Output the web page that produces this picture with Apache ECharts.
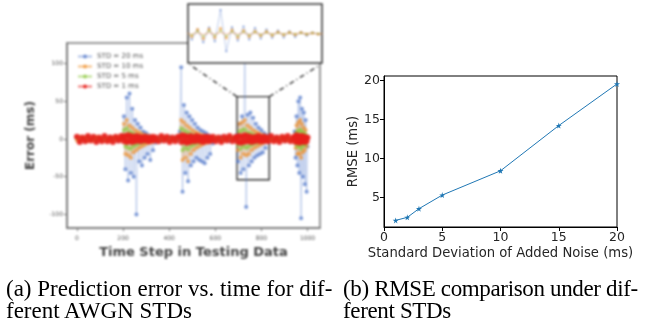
<!DOCTYPE html>
<html><head><meta charset="utf-8">
<script src="https://cdn.jsdelivr.net/npm/echarts@6/dist/echarts.min.js"></script>
<style>
html,body{margin:0;padding:0;background:#fff;width:657px;height:324px;overflow:hidden;}
#left{position:absolute;left:0;top:0;width:340px;height:264px;filter:blur(0.9px);}
#right{position:absolute;left:0;top:0;width:657px;height:324px;}
.cap{position:absolute;font-family:'Liberation Serif','Times New Roman',serif;font-size:23px;line-height:22px;color:#000;white-space:nowrap;}
</style></head>
<body>
<div id="right"></div>
<div id="left"></div>
<div class="cap" style="left:6px;top:278px;">(a) Prediction error vs. time for dif-<br>ferent AWGN STDs</div>
<div class="cap" style="left:343px;top:278px;letter-spacing:-0.35px;">(b) RMSE comparison under dif-<br>ferent STDs</div>
<script>
// ---------- data: panel (a) ----------
const timeSteps = [0,12,24,36,48,60,72,84,96,108,120,132,144,156,168,180,192,
198,204,210,216,222,228,234,240,246,252,258,264,270,276,282,288,294,300,306,312,318,324,330,336,342,
354,366,378,390,402,414,426,438,
446,452,458,464,470,476,482,488,494,500,506,512,518,524,530,536,542,548,554,560,566,572,578,584,590,
602,614,626,638,650,662,674,686,
692,698,704,710,716,722,728,734,740,746,752,758,764,770,776,782,788,794,800,806,812,818,824,830,
842,854,866,878,890,902,914,926,938,
944,948,952,956,960,964,968,972,976,980,984,988,992,996,1000];

const errStd20 = [2,-3,1,-2,3,-1,2,-3,1,-2,2,-1,3,-2,1,-3,2,
5,30,-40,55,-55,60,-45,40,-50,25,-100,20,-30,15,-35,10,-25,8,-20,5,-28,3,-15,2,-5,
2,-3,1,-2,3,-1,2,-2,
10,95,-70,45,-45,35,-56,30,-35,25,-30,20,-25,15,-28,12,-30,10,-32,8,-25,5,-20,3,-6,
1,-2,3,-1,2,-3,1,-2,
5,-30,20,-45,30,-40,120,-90,32,-35,35,-30,28,-25,20,-22,15,-20,12,-18,8,-12,5,-4,
2,-1,3,-2,1,-3,2,-1,2,
10,-25,30,-35,50,-45,55,-105,40,-50,35,-60,25,-70,-10];

const errStd10 = [-2,3,-1,2,-3,1,-2,3,-1,2,-2,1,-3,2,-1,3,-2,
3,20,-20,25,-22,18,-25,15,-18,12,-15,10,-12,8,-10,6,-8,5,-6,4,-5,3,-4,2,-2,
-2,3,-1,2,-3,1,-2,2,
5,25,-28,22,-25,18,-30,15,-20,12,-15,10,-12,8,-10,6,-8,5,-6,4,-5,3,-4,2,-2,
-1,2,-3,1,-2,3,-1,2,
3,-15,20,-25,22,-20,25,-22,18,-20,15,-15,12,-12,10,-10,8,-8,6,-6,5,-4,3,-2,
-2,1,-3,2,-1,3,-2,1,-2,
5,-12,18,-20,22,-20,25,-25,20,-18,15,-15,12,-10,2];

const errStd5 = [1,-2,2,-1,2,-2,1,-1,2,-2,1,-2,2,-1,2,-1,1,
2,12,-10,14,-12,10,-13,8,-10,6,-8,5,-6,4,-5,3,-4,3,-3,2,-3,2,-2,1,-1,
1,-2,2,-1,2,-2,1,-1,
3,14,-15,12,-12,10,-14,8,-10,6,-8,5,-6,4,-5,3,-4,3,-3,2,-3,2,-2,1,-1,
2,-1,1,-2,2,-1,2,-1,
2,-8,10,-13,12,-10,13,-12,9,-10,8,-8,6,-6,5,-5,4,-4,3,-3,3,-2,2,-1,
1,-2,2,-1,2,-2,1,-2,1,
3,-6,9,-10,11,-10,12,-13,10,-9,8,-8,6,-5,1];

const errStd1 = [3,-4,2,-3,4,-2,3,-4,2,-3,4,-3,2,-4,3,-2,4,
2,-3,4,-4,5,-3,4,-4,3,-3,4,-2,3,-3,2,-2,3,-2,2,-3,2,-2,3,-2,2,
-3,4,-2,3,-4,2,-3,3,
3,-4,5,-3,4,-5,3,-4,4,-3,2,-3,4,-2,3,-3,2,-4,3,-2,3,-3,2,-2,3,
-3,2,-4,3,-2,4,-3,2,
3,-4,4,-5,3,-4,5,-3,4,-3,3,-4,2,-3,3,-2,4,-3,2,-3,3,-2,2,-3,
4,-3,2,-4,3,-2,4,-3,2,
3,-4,5,-3,4,-5,3,-4,4,-3,3,-4,2,-3,2];

const seriesNames = ['STD = 20 ms','STD = 10 ms','STD = 5 ms','STD = 1 ms'];
const xTicksA = [0,200,400,600,800,1000];
const yTicksA = [-100,-50,0,50,100];
const zoomBox = {x0:694, x1:834, y0:-54, y1:56};

// ---------- data: panel (b) ----------
const noiseStd = [1,2,3,5,10,15,20];
const rmse = [2.05,2.44,3.55,5.3,8.42,14.23,19.58];

// ---------- panel (a) ----------
const colorsA = ['#4a72c8','#f0902a','#8cc83c','#e8201c'];
const valsA = [errStd20, errStd10, errStd5, errStd1];
const left = echarts.init(document.getElementById('left'));
function mkSeries(gi){
  return valsA.map((v,k)=>{
    const inset = gi===1;
    let sym = k===3 ? 6 : 4;
    if (inset) sym = k===1 ? 3 : (k===3 ? 0 : 2);
    return {
      name: seriesNames[k], type:'line', xAxisIndex:gi, yAxisIndex:gi,
      data: timeSteps.map((t,i)=>[t,v[i]]),
      symbol:'circle', symbolSize: sym, showSymbol: sym>0,
      lineStyle:{color:colorsA[k], width: inset ? (k===3?0.8:0.7) : (k===3?1.5:0.7),
        opacity: inset ? (k===3?0.35:0.5) : (k===0?0.45:0.6)},
      itemStyle:{color:colorsA[k], opacity: k===3?0.9:0.7},
      emphasis:{disabled:true}, animation:false, clip:true, z: (inset?20:2)+k,
      markArea: (gi===0 && k===3) ? {silent:true, itemStyle:{color:'rgba(0,0,0,0)', borderColor:'#333', borderWidth:1.4},
        data:[[{coord:[zoomBox.x0, zoomBox.y1]},{coord:[zoomBox.x1, zoomBox.y0]}]]} : undefined
    };
  });
}
const axLbl = {fontSize:6, color:'#555', fontFamily:'DejaVu Sans'};
left.setOption({
  animation:false,
  legend:{show:true, orient:'vertical', left:72, top:48, itemGap:3, itemWidth:14, itemHeight:5,
    textStyle:{fontSize:7, color:'#555', fontFamily:'DejaVu Sans'}, data:seriesNames},
  grid:[
    {left:67, top:43, width:253, height:190, show:true, borderColor:'#777', borderWidth:1.5, backgroundColor:'#fff'},
    {left:188, top:4, width:134, height:59, show:true, borderColor:'#333', borderWidth:1.5, backgroundColor:'#fff', z:10}
  ],
  xAxis:[
    {type:'value', gridIndex:0, min:-43, max:1054, splitLine:{show:false},
     axisLine:{show:true, onZero:false, lineStyle:{color:'#777', width:1.5}},
     axisTick:{show:true, inside:false, length:3, lineStyle:{color:'#777'}, customValues:xTicksA},
     axisLabel:Object.assign({customValues:xTicksA, margin:7, formatter:(v)=>String(v)}, axLbl),
     name:'Time Step in Testing Data', nameLocation:'middle', nameGap:13,
     nameTextStyle:{fontSize:13, color:'#444', fontWeight:'bold', fontFamily:'DejaVu Sans'}},
    {type:'value', gridIndex:1, min:zoomBox.x0, max:zoomBox.x1, show:false, splitLine:{show:false}}
  ],
  yAxis:[
    {type:'value', gridIndex:0, min:-118, max:127, splitLine:{show:false},
     axisLine:{show:true, onZero:false, lineStyle:{color:'#777', width:1.5}},
     axisTick:{show:true, inside:false, length:3, lineStyle:{color:'#777'}, customValues:yTicksA},
     axisLabel:Object.assign({customValues:yTicksA, margin:4}, axLbl),
     name:'Error (ms)', nameLocation:'middle', nameGap:30,
     nameTextStyle:{fontSize:12, color:'#444', fontWeight:'bold', fontFamily:'DejaVu Sans'}},
    {type:'value', gridIndex:1, min:-150, max:150, show:false, splitLine:{show:false}}
  ],
  series: mkSeries(0).concat(mkSeries(1))
});
const tl = left.convertToPixel({gridIndex:0},[zoomBox.x0, zoomBox.y1]);
const tr = left.convertToPixel({gridIndex:0},[zoomBox.x1, zoomBox.y1]);
const bl = left.convertToPixel({gridIndex:1},[zoomBox.x0, -150]);
const br = left.convertToPixel({gridIndex:1},[zoomBox.x1, -150]);
left.setOption({graphic:[
  {type:'line', shape:{x1:tl[0],y1:tl[1],x2:bl[0]+2,y2:bl[1]+2}, style:{stroke:'#111', lineWidth:1.2, lineDash:[5,3,1,3]}, z:50},
  {type:'line', shape:{x1:tr[0],y1:tr[1],x2:br[0]-2,y2:br[1]+2}, style:{stroke:'#111', lineWidth:1.2, lineDash:[5,3,1,3]}, z:50}
]});

// ---------- panel (b) ----------
const right = echarts.init(document.getElementById('right'));
const yTicksB = [5,10,15,20];
const fontB = {fontSize:12.5, color:'#262626', fontFamily:'DejaVu Sans'};
right.setOption({
  animation:false,
  grid:{left:384, top:76, width:233, height:151, show:true, borderColor:'#000', borderWidth:1},
  xAxis:{type:'value', min:0, max:20, interval:5, splitLine:{show:false},
    axisLine:{show:true, onZero:false, lineStyle:{color:'#000', width:1}},
    axisTick:{show:true, inside:false, length:4, lineStyle:{color:'#000'}},
    axisLabel:Object.assign({margin:4}, fontB),
    name:'Standard Deviation of Added Noise (ms)', nameLocation:'middle', nameGap:20,
    nameTextStyle:{fontSize:13.2, color:'#262626', fontFamily:'DejaVu Sans'}},
  yAxis:{type:'value', min:1.2, max:20.6, splitLine:{show:false},
    axisLine:{show:true, onZero:false, lineStyle:{color:'#000', width:1}},
    axisTick:{show:true, inside:false, length:4, lineStyle:{color:'#000'}, customValues:yTicksB},
    axisLabel:Object.assign({margin:4, customValues:yTicksB}, fontB),
    name:'RMSE (ms)', nameLocation:'middle', nameGap:24,
    nameTextStyle:{fontSize:13.2, color:'#262626', fontFamily:'DejaVu Sans'}},
  series:[{type:'line', data:noiseStd.map((x,i)=>[x,rmse[i]]),
    symbol:'path://M50,0 L61,35 L98,35 L68,57 L79,91 L50,70 L21,91 L32,57 L2,35 L39,35 Z',
    symbolSize:6, lineStyle:{color:'#1f77b4', width:1}, itemStyle:{color:'#1f77b4'}, clip:false}]
});
</script>
</body></html>
